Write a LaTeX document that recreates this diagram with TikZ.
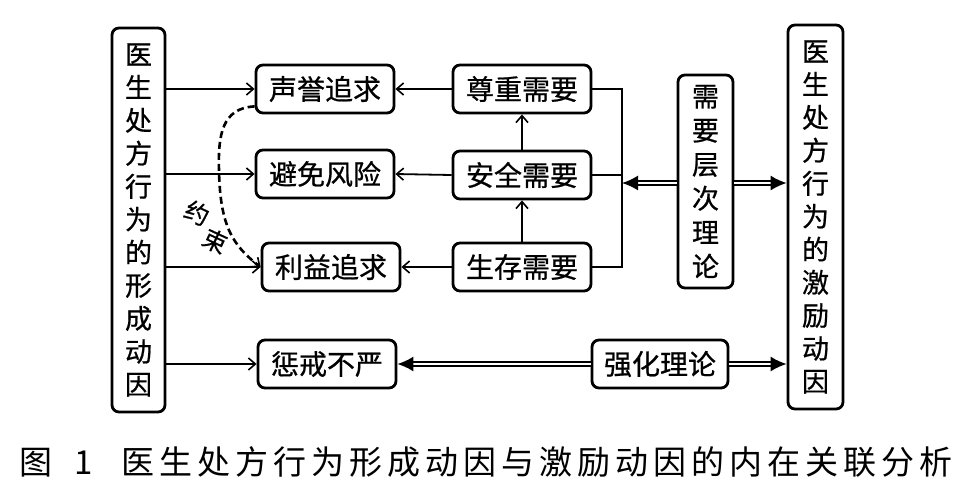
\documentclass[tikz,border=0pt]{standalone}
\usepackage{fontspec}
\setmainfont{Noto Sans CJK SC}[FakeBold=0.7]
\newfontfamily\capfont{Noto Sans CJK SC}
\usetikzlibrary{arrows.meta}
\begin{document}
\begin{tikzpicture}[x=1pt,y=-1pt,
  box/.style={draw,line width=2.8pt,rounded corners=7pt,inner sep=0pt,font=\fontsize{28}{30}\selectfont},
  hbox/.style={box,minimum width=138pt,minimum height=48pt},
  vbox/.style={box,align=center,font=\fontsize{27}{33}\selectfont},
  arr/.style={line width=1.8pt,-{Straight Barb[length=7pt,width=12pt,line width=1.6pt]}},
  ln/.style={line width=1.8pt},
  dbl/.style={line width=1.6pt,double,double distance=2.4pt,-{Latex[length=16pt,width=15pt]}},
  dsh/.style={line width=2.6pt,dash pattern=on 7pt off 4pt,-{Straight Barb[length=7pt,width=12pt,line width=1.6pt]}}
]
\useasboundingbox (0,0) rectangle (966,493);
\node[vbox,minimum width=53pt,minimum height=384pt] (L) at (138.5,220) {医\\生\\处\\方\\行\\为\\的\\形\\成\\动\\因};
\node[vbox,minimum width=55pt,minimum height=384pt] (R) at (815.5,217) {医\\生\\处\\方\\行\\为\\的\\激\\励\\动\\因};
\node[hbox] (a1) at (325,89) {声誉追求};
\node[hbox] (a2) at (325,174) {避免风险};
\node[hbox] (a3) at (331,267) {利益追求};
\node[hbox] (b1) at (522,89) {尊重需要};
\node[hbox] (b2) at (522,175) {安全需要};
\node[hbox] (b3) at (522,267) {生存需要};
\node[vbox,minimum width=55pt,minimum height=213pt,font=\fontsize{27}{34}\selectfont] (N) at (705.5,181.5) {需\\要\\层\\次\\理\\论};
\node[hbox] (c1) at (327,364) {惩戒不严};
\node[hbox,minimum width=136pt] (c2) at (660,364) {强化理论};
\coordinate (k1) at (622,89);
\coordinate (k3) at (622,267);
\coordinate (k2) at (622,183);

\draw[arr] (L.east |- a1) -- (a1.west);
\draw[arr] (L.east |- a2) -- (a2.west);
\draw[arr] (L.east |- a3) -- (a3.west);
\draw[arr] (L.east |- c1) -- (c1.west);
\draw[arr] (b1.west) -- (a1.east);
\draw[arr] (b2.west) -- (a2.east);
\draw[arr] (b3.west) -- (a3.east);
\draw[arr] (b2.north) -- (b1.south);
\draw[arr] (b3.north) -- (b2.south);
\draw[ln] (b1.east) -- (k1) -- (k3) -- (b3.east);
\draw[ln] (b2.east) -- (b2.east -| k1);
\draw[dbl] (N.west |- k2) -- (k2);
\draw[dbl] (N.east |- k2) -- (R.west |- k2);
\draw[dbl] (c2.west) -- (c1.east);
\draw[dbl] (c2.east) -- (c2.east -| R.west);
\draw[dsh] (a1.south west) ++(0,-8) .. controls (222,108) and (218,135) .. (219,170)
  .. controls (220,225) and (232,245) .. (a3.west);
\node[font=\fontsize{24}{24}\selectfont,rotate=-25] (y1) at (197,213) {约};
\node[font=\fontsize{24}{24}\selectfont,rotate=-25] (y2) at (215,241) {束};
\node[anchor=west,font=\capfont\fontsize{33}{34}\selectfont] (cap) at (16,462) {图\hspace{22pt}1\hspace{29pt}医\hspace{5pt}生\hspace{5pt}处\hspace{5pt}方\hspace{5pt}行\hspace{5pt}为\hspace{5pt}形\hspace{5pt}成\hspace{5pt}动\hspace{5pt}因\hspace{5pt}与\hspace{5pt}激\hspace{5pt}励\hspace{5pt}动\hspace{5pt}因\hspace{5pt}的\hspace{5pt}内\hspace{5pt}在\hspace{5pt}关\hspace{5pt}联\hspace{5pt}分\hspace{5pt}析};
\end{tikzpicture}
\end{document}
